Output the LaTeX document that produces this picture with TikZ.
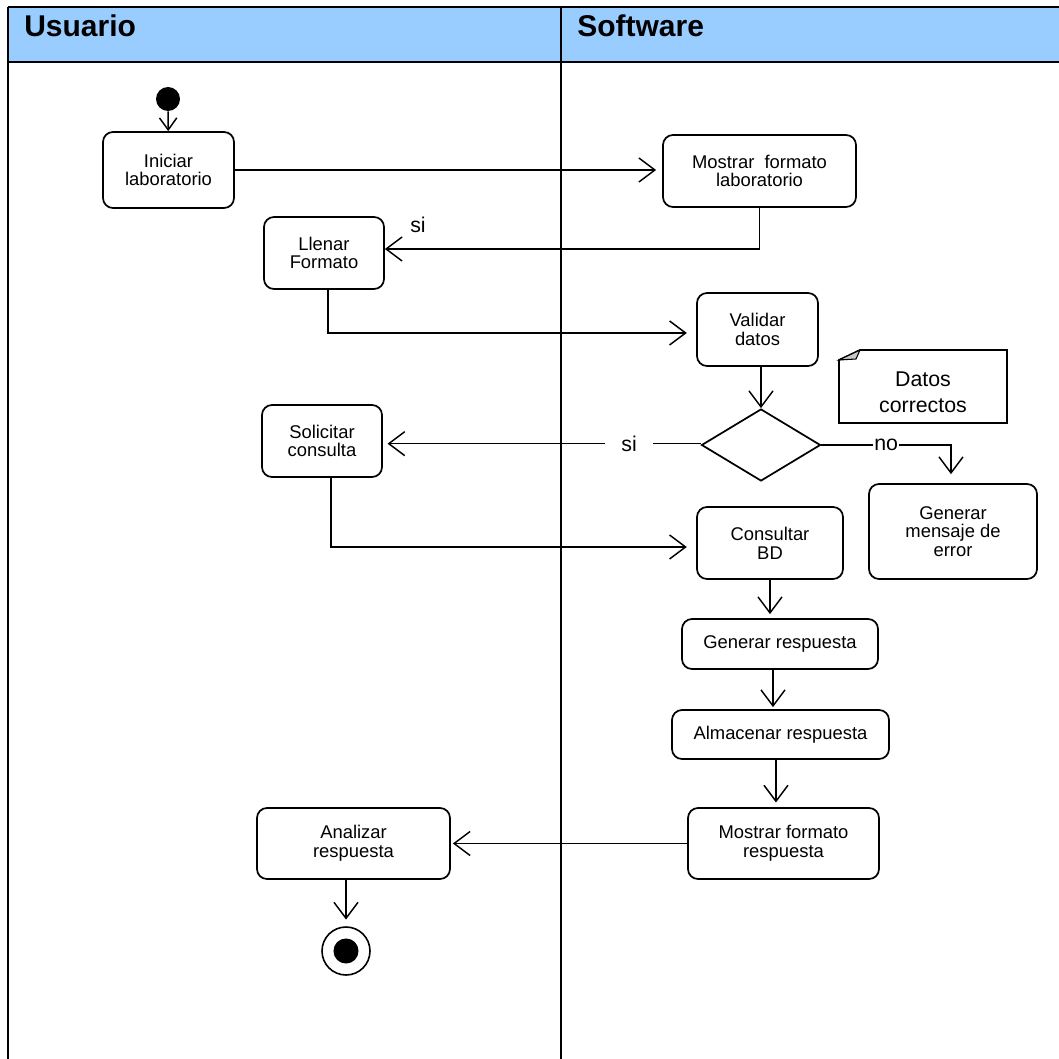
\documentclass[tikz,border=0pt]{standalone}
\usepackage{fontspec}
\setmainfont{Liberation Sans}
\usetikzlibrary{arrows.meta,shapes.geometric,calc}
\definecolor{headerblue}{HTML}{99CCFF}
\definecolor{foldgray}{HTML}{C8C8C8}
\begin{document}
\begin{tikzpicture}[x=0.75pt,y=-0.75pt,
  frame/.style={line width=1.6pt},
  hdr/.style={inner sep=0pt, font=\fontsize{22.5pt}{24pt}\selectfont\bfseries},
  act/.style={draw, rounded corners=7.5pt, line width=1.3pt, align=center, inner sep=2pt,
              font=\fontsize{13.8pt}{14pt}\selectfont},
  lbl/.style={inner sep=0pt, font=\fontsize{16pt}{18pt}\selectfont},
  flow/.style={line width=1.05pt, -{Straight Barb[length=12pt,width=18pt,line width=1.1pt]}},
  flowsmall/.style={line width=1.05pt, -{Straight Barb[length=9pt,width=13pt,line width=1.1pt]}}
]
\useasboundingbox (0,0) rectangle (1059,1059);
% swimlane frame
\fill[headerblue] (8,7) rectangle (1059,62);
\draw[frame] (8,7) -- (1059,7);
\draw[frame] (8,62) -- (1059,62);
\draw[frame] (8,7) -- (8,1059);
\draw[frame] (561,7) -- (561,1059);
\node[hdr, anchor=base west] (husr) at (24,36.5) {Usuario};
\node[hdr, anchor=base west] (hsw) at (577,36.5) {Software};

% nodes
\node[circle, fill, inner sep=0pt, minimum size=18pt] (init) at (168,99) {};
\node[act, minimum width=98.25pt, minimum height=57pt] (iniciar) at (168.5,170) {Iniciar\\laboratorio};
\node[act, minimum width=144.75pt, minimum height=54pt] (mlab) at (759.5,171) {Mostrar\ \ formato\\laboratorio};
\node[act, minimum width=90pt, minimum height=54pt] (llenar) at (324,253) {Llenar\\Formato};
\node[act, minimum width=90.75pt, minimum height=54.75pt] (validar) at (757.5,329.5) {Validar\\datos};
\node[diamond, draw, line width=1.3pt, inner sep=0pt, minimum width=89.25pt, minimum height=54pt] (dec) at (761,445) {};
\node[act, minimum width=90pt, minimum height=54pt] (solicitar) at (322,441) {Solicitar\\consulta};
\node[act, minimum width=109.5pt, minimum height=54pt] (consultar) at (770,543) {Consultar\\BD};
\node[act, minimum width=126pt, minimum height=71.25pt] (generr) at (953,531.5) {Generar\\mensaje de\\error};
\node[act, minimum width=147pt, minimum height=37.5pt] (genresp) at (780,644) {Generar respuesta};
\node[act, minimum width=162.75pt, minimum height=36.75pt] (almacenar) at (780.5,734.5) {Almacenar respuesta};
\node[act, minimum width=143.25pt, minimum height=53.25pt] (mresp) at (783.5,843.5) {Mostrar formato\\respuesta};
\node[act, minimum width=144.75pt, minimum height=53.25pt] (analizar) at (353.5,843.5) {Analizar\\respuesta};
\node[circle, draw, line width=1.2pt, inner sep=0pt, minimum size=36pt] (final) at (346,951) {};
\fill (final.center) circle (9.4pt);

% note
\draw[line width=1.3pt, fill=white] (839,360) -- (860,350) -- (1007,350) -- (1007,423) -- (839,423) -- cycle;
\filldraw[fill=foldgray, line width=0.8pt] (839,360) -- (860,350) -- (856,359) -- cycle;
\node[align=center, inner sep=0pt, font=\fontsize{16pt}{19.5pt}\selectfont] (note) at (923,392) {Datos\\correctos};

% connectors
\draw[flowsmall] (init) -- (iniciar);
\draw[flow, shorten >=4.5pt] (iniciar.east) -- (iniciar.east -| mlab.west);
\draw[flow] (mlab.south) |- ([yshift=3pt]llenar.east);
\node[lbl] (si1) at (418,225) {si};
\draw[flow, shorten >=7pt] ([xshift=3pt]llenar.south) |- ([yshift=-2.6pt]validar.west);
\draw[flow] (dec.north |- validar.south) -- (dec.north);
\draw[flow, shorten >=3.5pt] ([yshift=1pt]dec.west) -- node[lbl, fill=white, inner xsep=12pt, inner ysep=2pt, pos=0.225] (si2) {si} ([yshift=1pt]dec.west -| solicitar.east);
\draw[flow, shorten >=7pt] ([xshift=6.75pt]solicitar.south) |- ([yshift=-3pt]consultar.west);
\draw[flow, shorten >=6.75pt] (dec.east) -| node[lbl, fill=white, inner xsep=1pt, inner ysep=2pt, pos=0.25] (no) {no} ([xshift=-1.5pt]generr.north);
\draw[flow, shorten >=3pt] (consultar.south) -- (consultar.south |- genresp.north);
\draw[flow, shorten >=1.5pt] ([xshift=-5.25pt]genresp.south) -- ([xshift=-5.25pt]genresp.south |- almacenar.north);
\draw[flow, shorten >=3.5pt] ([xshift=-3.4pt]almacenar.south) -- ([xshift=-3.4pt]almacenar.south |- mresp.north);
\draw[flow, shorten >=1.5pt] (mresp.west) -- (mresp.west -| analizar.east);
\draw[flow, shorten >=5pt] (final.north |- analizar.south) -- (final.north);
\end{tikzpicture}
\end{document}
